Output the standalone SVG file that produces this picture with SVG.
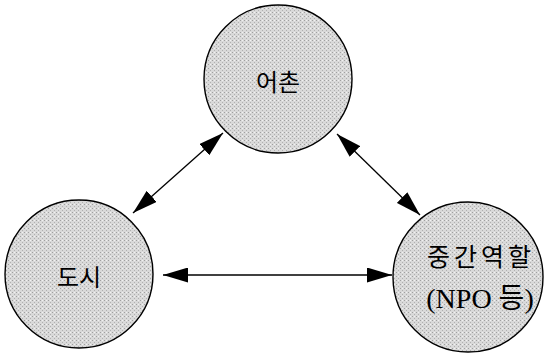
<svg xmlns="http://www.w3.org/2000/svg" width="546" height="355" viewBox="0 0 546 355">
  <style>
    .node { fill: url(#grain); stroke: #000; stroke-width: 1.4; }
    .lbl { font-family: "Noto Sans CJK KR", "Liberation Sans", sans-serif; font-size: 24px; fill: #000; text-anchor: middle; }
    .lbl2 { font-family: "Liberation Serif", "Noto Sans CJK KR", serif; font-size: 28px; fill: #000; text-anchor: middle; }
    .link { stroke: #000; stroke-width: 1.3; fill: none; marker-start: url(#head); marker-end: url(#head); }
  </style>
  <defs>
    <pattern id="grain" width="4" height="4" patternUnits="userSpaceOnUse">
      <rect width="4" height="4" fill="#d9d9d9"/>
      <rect x="0" y="0" width="1" height="1" fill="#a0a0a0"/>
      <rect x="2" y="2" width="1" height="1" fill="#b0b0b0"/>
      <rect x="2" y="0" width="1" height="1" fill="#f2f2f2"/>
    </pattern>
    <marker id="head" viewBox="0 0 25 15" refX="25" refY="7.5" markerWidth="25" markerHeight="15" markerUnits="userSpaceOnUse" orient="auto-start-reverse">
      <path d="M0,0 L25,7.5 L0,15 z" fill="#000"/>
    </marker>
  </defs>

  <g id="node-fishing-village">
    <circle class="node" cx="278" cy="79" r="74"/>
    <text class="lbl" x="278" y="91">어촌</text>
  </g>

  <g id="node-city">
    <circle class="node" cx="79" cy="274" r="74"/>
    <text class="lbl" x="79" y="286">도시</text>
  </g>

  <g id="node-intermediary">
    <circle class="node" cx="468" cy="277" r="75"/>
    <text class="lbl" x="481" y="266" style="font-size:25px;letter-spacing:4px">중간역할</text>
    <text class="lbl2" x="480" y="308">(NPO 등)</text>
  </g>

  <g id="connectors">
    <line class="link" x1="133" y1="213" x2="223" y2="133"/>
    <line class="link" x1="337" y1="134" x2="420" y2="215"/>
    <line class="link" x1="163" y1="275" x2="392" y2="275"/>
  </g>
</svg>
